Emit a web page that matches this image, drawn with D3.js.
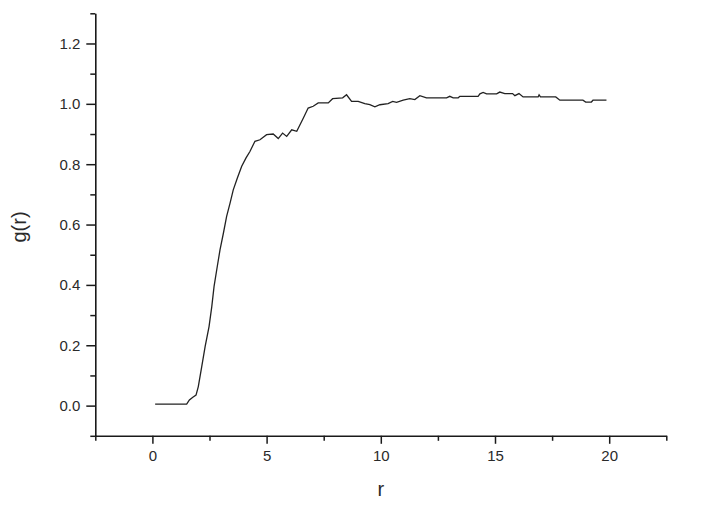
<!DOCTYPE html>
<html>
<head>
<meta charset="utf-8">
<script src="https://cdn.jsdelivr.net/npm/d3@7"></script>
<style>
html,body{margin:0;padding:0;background:#fff;}
svg{display:block;}
</style>
</head>
<body>
<svg id="chart" width="721" height="525"></svg>
<script>
// data
const rValues = [0.12, 1.5, 1.62, 1.77, 1.91, 2.01, 2.16, 2.31, 2.48, 2.60, 2.70, 2.84, 2.96, 3.11, 3.25, 3.40, 3.54, 3.72, 3.91, 4.10, 4.27, 4.49, 4.71, 5.00, 5.29, 5.51, 5.70, 5.88, 6.10, 6.32, 6.61, 6.82, 7.04, 7.26, 7.70, 7.89, 8.33, 8.50, 8.72, 9.01, 9.30, 9.52, 9.74, 9.96, 10.32, 10.52, 10.69, 10.98, 11.27, 11.49, 11.71, 12.00, 12.88, 13.02, 13.17, 13.39, 13.46, 14.26, 14.34, 14.48, 14.63, 15.07, 15.21, 15.43, 15.77, 15.87, 16.05, 16.23, 16.89, 16.93, 16.99, 17.66, 17.84, 18.85, 18.97, 19.22, 19.29, 19.88];
const gValues = [0.005, 0.005, 0.019, 0.028, 0.035, 0.063, 0.129, 0.196, 0.262, 0.328, 0.395, 0.461, 0.516, 0.572, 0.627, 0.671, 0.715, 0.754, 0.793, 0.821, 0.842, 0.876, 0.881, 0.898, 0.900, 0.885, 0.903, 0.892, 0.914, 0.909, 0.953, 0.986, 0.992, 1.003, 1.003, 1.017, 1.020, 1.030, 1.008, 1.008, 1.001, 0.997, 0.990, 0.997, 1.001, 1.008, 1.005, 1.012, 1.017, 1.014, 1.027, 1.020, 1.020, 1.025, 1.020, 1.020, 1.025, 1.025, 1.033, 1.038, 1.033, 1.033, 1.039, 1.034, 1.034, 1.027, 1.034, 1.023, 1.023, 1.030, 1.023, 1.023, 1.012, 1.012, 1.006, 1.006, 1.012, 1.012];
const xMajorTicks = [0, 5, 10, 15, 20];
const xMinorTicks = [-2.5, 2.5, 7.5, 12.5, 17.5, 22.5];
const yMajorTicks = [0.0, 0.2, 0.4, 0.6, 0.8, 1.0, 1.2];
const yMinorTicks = [-0.1, 0.1, 0.3, 0.5, 0.7, 0.9, 1.1, 1.3];
const xLabel = "r";
const yLabel = "g(r)";

const svg = d3.select("#chart");
const x = d3.scaleLinear().domain([-2.5, 22.5]).range([95.3, 666.3]);
const y = d3.scaleLinear().domain([-0.1, 1.3]).range([435.8, 13.3]);

const axisColor = "#1a1a1a";
const font = "'Liberation Sans', Arial, sans-serif";

// x axis
const gx = svg.append("g").attr("transform", `translate(0,${y(-0.1)})`);
gx.call(d3.axisBottom(x).tickValues(xMajorTicks).tickSize(8).tickSizeOuter(0).tickPadding(7).tickFormat(d3.format("d")));
gx.append("g").call(d3.axisBottom(x).tickValues(xMinorTicks).tickSize(5).tickSizeOuter(0).tickFormat(""))
  .select(".domain").remove();

// y axis
const gy = svg.append("g").attr("transform", `translate(${x(-2.5)},0)`);
gy.call(d3.axisLeft(y).tickValues(yMajorTicks).tickSize(9).tickSizeOuter(0).tickPadding(6).tickFormat(d3.format(".1f")));
gy.append("g").call(d3.axisLeft(y).tickValues(yMinorTicks).tickSize(5).tickSizeOuter(0).tickFormat(""))
  .select(".domain").remove();

svg.selectAll(".domain").attr("stroke", axisColor).attr("stroke-width", 1.6);
svg.selectAll(".tick line").attr("stroke", axisColor).attr("stroke-width", 1.5);
svg.selectAll(".tick text").attr("fill", "#2a2a2a").style("font-family", font).style("font-size", "15px");

// axis titles
svg.append("text").attr("x", x(10)).attr("y", 496).attr("text-anchor", "middle")
  .style("font-family", font).style("font-size", "20px").attr("fill", "#2a2a2a").text(xLabel);
svg.append("text").attr("transform", "translate(26,227) rotate(-90)").attr("text-anchor", "middle")
  .style("font-family", font).style("font-size", "20px").attr("fill", "#2a2a2a").text(yLabel);

// line
const data = rValues.map((r, i) => ({r, g: gValues[i]}));
svg.append("path").datum(data)
  .attr("fill", "none").attr("stroke", "#222").attr("stroke-width", 1.3)
  .attr("d", d3.line().x(d => x(d.r)).y(d => y(d.g)));
</script>
</body>
</html>
